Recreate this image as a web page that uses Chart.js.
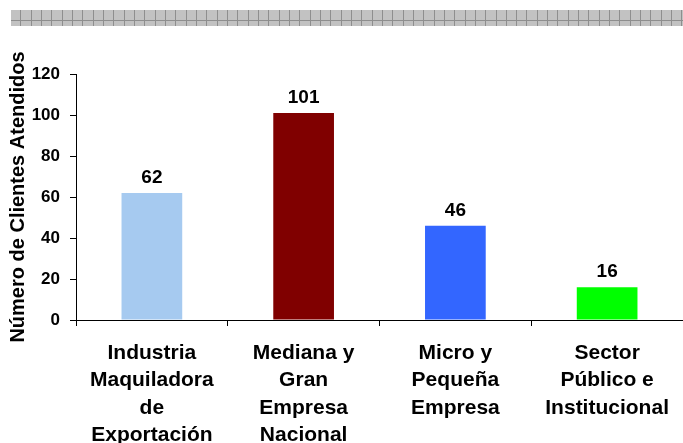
<!DOCTYPE html>
<html>
<head>
<meta charset="utf-8">
<script src="https://cdn.jsdelivr.net/npm/chart.js@4.4.0/dist/chart.umd.min.js"></script>
<style>
  html, body { margin: 0; padding: 0; background: #fff; }
  #wrap { position: relative; width: 683px; height: 443px; }
  #band {
    position: absolute; left: 11px; top: 10px; width: 672px; height: 16px;
    background-color: #c2c2c2;
    background-image:
      linear-gradient(to bottom, transparent 0 10px, #8e8e8e 10px 11px, transparent 11px 16px),
      repeating-linear-gradient(to right, #c2c2c2 0 9.33px, #8e8e8e 9.33px 10.33px),
      repeating-conic-gradient(#c8c8c8 0 25%, #bababa 0 50%);
    background-size: 100% 100%, 100% 100%, 2px 2px;
  }
  canvas { position: absolute; left: 0; top: 0; }
</style>
</head>
<body>
<div id="wrap">
  <div id="band"></div>
  <canvas id="c" width="683" height="443"></canvas>
</div>
<script>
const categories = [
  ["Industria", "Maquiladora", "de", "Exportación"],
  ["Mediana y", "Gran", "Empresa", "Nacional"],
  ["Micro y", "Pequeña", "Empresa"],
  ["Sector", "Público e", "Institucional"]
];
const clientes = [62, 101, 46, 16];
const barColors = ["#A6CAF0", "#800000", "#3366FF", "#00FF00"];
const yTitle = "Número de Clientes Atendidos";

const FONT = "'Liberation Sans', Arial, sans-serif";

const valueLabels = {
  id: "valueLabels",
  afterDatasetsDraw(chart) {
    const ctx = chart.ctx;
    const meta = chart.getDatasetMeta(0);
    ctx.save();
    ctx.font = "bold 19px " + FONT;
    ctx.fillStyle = "#000";
    ctx.textAlign = "center";
    ctx.textBaseline = "alphabetic";
    meta.data.forEach((bar, i) => {
      ctx.fillText(String(clientes[i]), bar.x, bar.y - 10);
    });
    ctx.restore();
  }
};

new Chart(document.getElementById("c"), {
  type: "bar",
  data: {
    labels: categories,
    datasets: [{
      data: clientes,
      backgroundColor: barColors,
      borderWidth: 0,
      barPercentage: 0.4,
      categoryPercentage: 1.0
    }]
  },
  options: {
    responsive: false,
    animation: false,
    events: [],
    layout: { padding: { top: 74, left: 4, right: 0, bottom: 0 } },
    plugins: { legend: { display: false }, tooltip: { enabled: false } },
    scales: {
      x: {
        afterFit(scale) { scale.height = 123; },
        grid: { display: true, drawOnChartArea: false, drawTicks: true, tickLength: 6, color: "#000", offset: true },
        border: { display: true, color: "#000", width: 1 },
        ticks: {
          color: "#000",
          padding: 14,
          maxRotation: 0,
          autoSkip: false,
          font: { family: FONT, size: 21, weight: "bold", lineHeight: 1.29 }
        }
      },
      y: {
        min: 0, max: 120,
        afterFit(scale) { scale.width = 72; },
        grid: { display: true, drawOnChartArea: false, drawTicks: true, tickLength: 6, color: "#000" },
        border: { display: true, color: "#000", width: 1 },
        ticks: {
          stepSize: 20,
          color: "#000",
          padding: 10,
          font: { family: FONT, size: 17, weight: "bold" }
        },
        title: {
          display: true,
          text: yTitle,
          color: "#000",
          padding: { top: 2, bottom: 2 },
          font: { family: FONT, size: 20, weight: "bold", lineHeight: 1.2 }
        }
      }
    }
  },
  plugins: [valueLabels]
});
</script>
</body>
</html>
